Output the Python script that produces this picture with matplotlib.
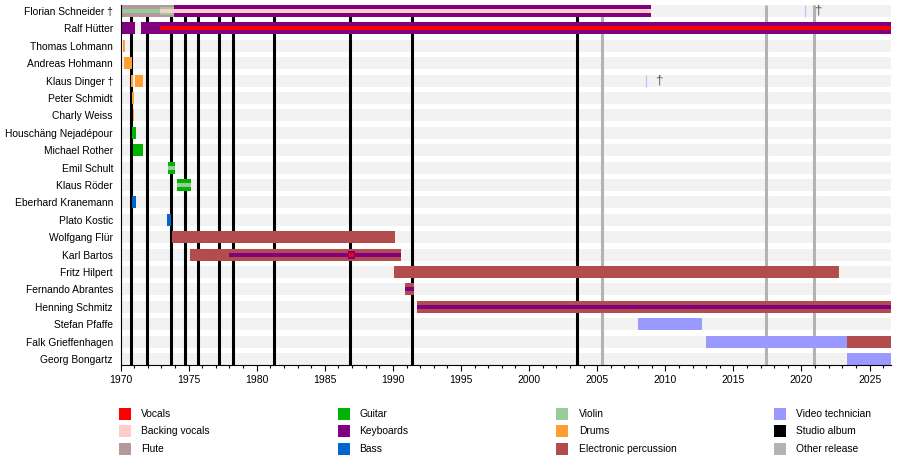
import matplotlib
matplotlib.use("Agg")
import matplotlib.pyplot as plt
from matplotlib.patches import Rectangle

plt.rcParams['font.family'] = ['Liberation Sans', 'DejaVu Sans']

# ---------------- data ----------------
members = ["Florian Schneider †", "Ralf Hütter", "Thomas Lohmann", "Andreas Hohmann",
           "Klaus Dinger †", "Peter Schmidt", "Charly Weiss", "Houschäng Nejadépour",
           "Michael Rother", "Emil Schult", "Klaus Röder", "Eberhard Kranemann",
           "Plato Kostic", "Wolfgang Flür", "Karl Bartos", "Fritz Hilpert",
           "Fernando Abrantes", "Henning Schmitz", "Stefan Pfaffe",
           "Falk Grieffenhagen", "Georg Bongartz"]

today = 2026.55

role_colors = {
    "Vocals": "#FF0000",
    "Backing vocals": "#FFCCCC",
    "Flute": "#B39999",
    "Guitar": "#00B300",
    "Keyboards": "#800080",
    "Bass": "#0066CC",
    "Violin": "#99CC99",
    "Drums": "#FF9F33",
    "Electronic percussion": "#B34D4D",
    "Video technician": "#9999FF",
    "Studio album": "#000000",
    "Other release": "#B3B3B3",
}

# full-height bars: (member, role, start, end)
main_bars = [
    ("Florian Schneider †", "Flute", 1970.0, 1973.95),
    ("Florian Schneider †", "Keyboards", 1973.95, 2008.95),
    ("Ralf Hütter", "Keyboards", 1970.0, 1971.06),
    ("Ralf Hütter", "Keyboards", 1971.5, today),
    ("Thomas Lohmann", "Drums", 1970.18, 1970.33),
    ("Andreas Hohmann", "Drums", 1970.26, 1970.84),
    ("Klaus Dinger †", "Drums", 1970.77, 1970.94),
    ("Klaus Dinger †", "Drums", 1971.06, 1971.65),
    ("Peter Schmidt", "Drums", 1970.84, 1970.97),
    ("Charly Weiss", "Drums", 1970.90, 1970.97),
    ("Houschäng Nejadépour", "Guitar", 1970.84, 1971.14),
    ("Michael Rother", "Guitar", 1970.92, 1971.65),
    ("Emil Schult", "Guitar", 1973.49, 1974.0),
    ("Klaus Röder", "Guitar", 1974.15, 1975.18),
    ("Eberhard Kranemann", "Bass", 1970.84, 1971.14),
    ("Plato Kostic", "Bass", 1973.41, 1973.70),
    ("Wolfgang Flür", "Electronic percussion", 1973.78, 1990.15),
    ("Karl Bartos", "Electronic percussion", 1975.10, 1990.60),
    ("Fritz Hilpert", "Electronic percussion", 1990.08, 2022.75),
    ("Fernando Abrantes", "Electronic percussion", 1990.88, 1991.54),
    ("Henning Schmitz", "Electronic percussion", 1991.77, today),
    ("Stefan Pfaffe", "Video technician", 2008.0, 2012.69),
    ("Falk Grieffenhagen", "Video technician", 2012.99, 2023.34),
    ("Falk Grieffenhagen", "Electronic percussion", 2023.34, today),
    ("Georg Bongartz", "Video technician", 2023.34, today),
]

# medium bars (half height)
mid_bars = [
    ("Florian Schneider †", "Violin", 1972.9, 1973.95),
    ("Karl Bartos", "Keyboards", 1986.70, 1987.20),
]

# thin centre strips
strips = [
    ("Florian Schneider †", "Violin", 1970.0, 1972.9),
    ("Florian Schneider †", "Backing vocals", 1972.9, 2008.95),
    ("Ralf Hütter", "Vocals", 1972.9, today),
    ("Emil Schult", "Violin", 1973.49, 1974.0),
    ("Klaus Röder", "Violin", 1974.15, 1975.18),
    ("Karl Bartos", "Keyboards", 1977.97, 1990.60),
    ("Karl Bartos", "Vocals", 1986.78, 1987.15),
    ("Fernando Abrantes", "Keyboards", 1990.88, 1991.54),
    ("Henning Schmitz", "Keyboards", 1991.77, today),
]

studio_albums = [1970.79, 1971.97, 1973.73, 1974.76, 1975.71, 1977.25,
                 1978.28, 1981.27, 1986.85, 1991.42, 2003.54]
other_releases = [2005.37, 2017.42, 2020.94]

deaths = [("Florian Schneider †", 2020.28), ("Klaus Dinger †", 2008.60)]

legend_columns = [
    ["Vocals", "Backing vocals", "Flute"],
    ["Guitar", "Keyboards", "Bass"],
    ["Violin", "Drums", "Electronic percussion"],
    ["Video technician", "Studio album", "Other release"],
]

# ---------------- drawing ----------------
W, H = 900, 455
fig = plt.figure(figsize=(W / 100, H / 100), dpi=100)
ax = fig.add_axes([120.5 / W, 90 / H, 770.2 / W, 360 / H])

n = len(members)
idx = {m: i for i, m in enumerate(members)}
BAND = 0.69
STRIP = 0.23
MID = 0.46

for i in range(n):
    ax.barh(i, today - 1970, left=1970, height=BAND, color="#F2F2F2", linewidth=0, zorder=0)

ymin, ymax = -BAND / 2, n - 1 + BAND / 2
ax.vlines(studio_albums, ymin, ymax, color=role_colors["Studio album"], lw=2.2, zorder=1)
ax.vlines(other_releases, ymin, ymax, color=role_colors["Other release"], lw=2.2, zorder=1)

for m, r, s, e in main_bars:
    ax.barh(idx[m], e - s, left=s, height=BAND, color=role_colors[r], linewidth=0, zorder=2)
for m, r, s, e in mid_bars:
    ax.barh(idx[m], e - s, left=s, height=MID, color=role_colors[r], linewidth=0, zorder=3)
for m, r, s, e in strips:
    z = 5 if r == "Vocals" and m == "Karl Bartos" else 4
    ax.barh(idx[m], e - s, left=s, height=STRIP, color=role_colors[r], linewidth=0, zorder=z)

for m, d in deaths:
    i = idx[m]
    ax.vlines(d, i - BAND / 2, i + BAND / 2, color="#B3C6FF", lw=0.9, zorder=6)
    ax.text(d + 0.92, i - 0.02, "†", ha="center", va="center", fontsize=9.5,
            color="#555555", zorder=6)

ax.set_xlim(1970, today)
ax.set_ylim(ymax, ymin)
ax.set_yticks(range(n))
ax.set_yticklabels(members, fontsize=7.4)
ax.tick_params(axis="y", length=0, pad=5.4)
ax.set_xticks(list(range(1970, 2026, 5)))
ax.set_xticks(list(range(1970, 2027)), minor=True)
ax.tick_params(axis="x", which="major", length=4.5, width=0.8, labelsize=7.5, pad=3)
ax.tick_params(axis="x", which="minor", length=2.2, width=0.8)
for sp in ("top", "right"):
    ax.spines[sp].set_visible(False)
ax.spines["left"].set_linewidth(0.8)
ax.spines["bottom"].set_linewidth(0.8)
ax.spines["left"].set_zorder(7)
ax.spines["bottom"].set_zorder(7)

sw_x = [119, 337.6, 555.7, 774.4]
tx_x = [141, 359, 579, 796]
row_y = [413.7, 431.2, 448.5]
for c, col in enumerate(legend_columns):
    for r, lab in enumerate(col):
        y = row_y[r]
        fig.add_artist(Rectangle((sw_x[c] / W, 1 - (y + 6) / H), 12 / W, 12 / H,
                                 transform=fig.transFigure, facecolor=role_colors[lab],
                                 edgecolor="none"))
        fig.text(tx_x[c] / W, 1 - y / H, lab, ha="left", va="center", fontsize=7.4)

fig.savefig("out.png", dpi=100)
